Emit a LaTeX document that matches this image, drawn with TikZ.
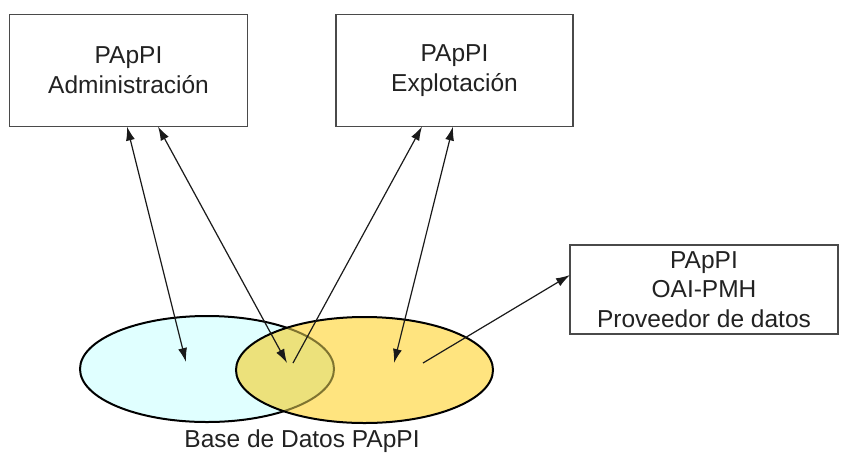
\documentclass[tikz,border=0pt]{standalone}
\usepackage{fontspec}
\setmainfont{Liberation Sans}
\usetikzlibrary{arrows.meta,shapes.geometric}
\definecolor{boxline}{HTML}{4A4A4A}
\definecolor{inkline}{HTML}{1A1A1A}
\definecolor{dbcyan}{HTML}{E0FFFF}
\definecolor{dbyellow}{HTML}{FFE47F}
\definecolor{dboverlap}{HTML}{ECE17B}
\definecolor{dbedge}{HTML}{7F7430}
\definecolor{txt}{HTML}{222222}
\tikzset{
  appbox/.style={draw=boxline, line width=1.4pt, fill=white, rectangle,
    inner sep=0pt, outer sep=0pt, align=center, text=txt,
    font=\fontsize{24.5}{30}\selectfont},
  link/.style={draw=inkline, line width=1.2pt,
    -{Latex[length=14pt,width=9pt]}},
  biglink/.style={link, {Latex[length=14pt,width=9pt]}-{Latex[length=14pt,width=9pt]}},
  dblabel/.style={text=txt, font=\fontsize{24.5}{30}\selectfont, inner sep=0pt}
}
\begin{document}
\begin{tikzpicture}[x=1pt,y=-1pt]
\useasboundingbox (0,0) rectangle (845,453);

% application boxes
\node[appbox, minimum width=238pt, minimum height=112pt] (adm) at (128.5,70.5)
  {PApPI\\Administración};
\node[appbox, minimum width=237pt, minimum height=112pt] (exp) at (454.5,70.5)
  {PApPI\\Explotación};
\node[appbox, minimum width=268pt, minimum height=89pt,
  font=\fontsize{24.5}{29.5}\selectfont] (oai) at (704,289.5)
  {PApPI\\OAI-PMH\\Proveedor de datos};

% database: two overlapping ellipses
\fill[dbcyan] (207,369) ellipse [x radius=127, y radius=53];
\draw[black, line width=2pt] (207,369) ellipse [x radius=127, y radius=53];
\fill[dbyellow] (364.5,370) ellipse [x radius=128.5, y radius=53];
\begin{scope}
  \clip (364.5,370) ellipse [x radius=128.5, y radius=53];
  \fill[dboverlap] (207,369) ellipse [x radius=127, y radius=53];
  \draw[dbedge, line width=2pt] (207,369) ellipse [x radius=127, y radius=53];
\end{scope}
\draw[black, line width=2pt] (364.5,370) ellipse [x radius=128.5, y radius=53];
\node[dblabel, anchor=base] (dbname) at (302,447.5) {Base de Datos PApPI};

% connector ends inside the database
\coordinate (dbA) at (186,362);
\coordinate (dbB) at (287,363);
\coordinate (dbC) at (293,363);
\coordinate (dbD) at (394,363);
\coordinate (dbE) at (423,363);

% connector ends on the boxes
\coordinate (admA) at ([xshift=-1.5pt]adm.south);
\coordinate (admB) at ([xshift=29.5pt]adm.south);
\coordinate (expC) at ([xshift=-32.5pt]exp.south);
\coordinate (expD) at ([xshift=-1.5pt]exp.south);
\coordinate (oaiE) at ([yshift=14.5pt]oai.west);

% connectors
\draw[biglink] (admA) -- (dbA);
\draw[biglink] (admB) -- (dbB);
\draw[link] (dbC) -- (expC);
\draw[biglink] (expD) -- (dbD);
\draw[link] (dbE) -- (oaiE);
\end{tikzpicture}
\end{document}
